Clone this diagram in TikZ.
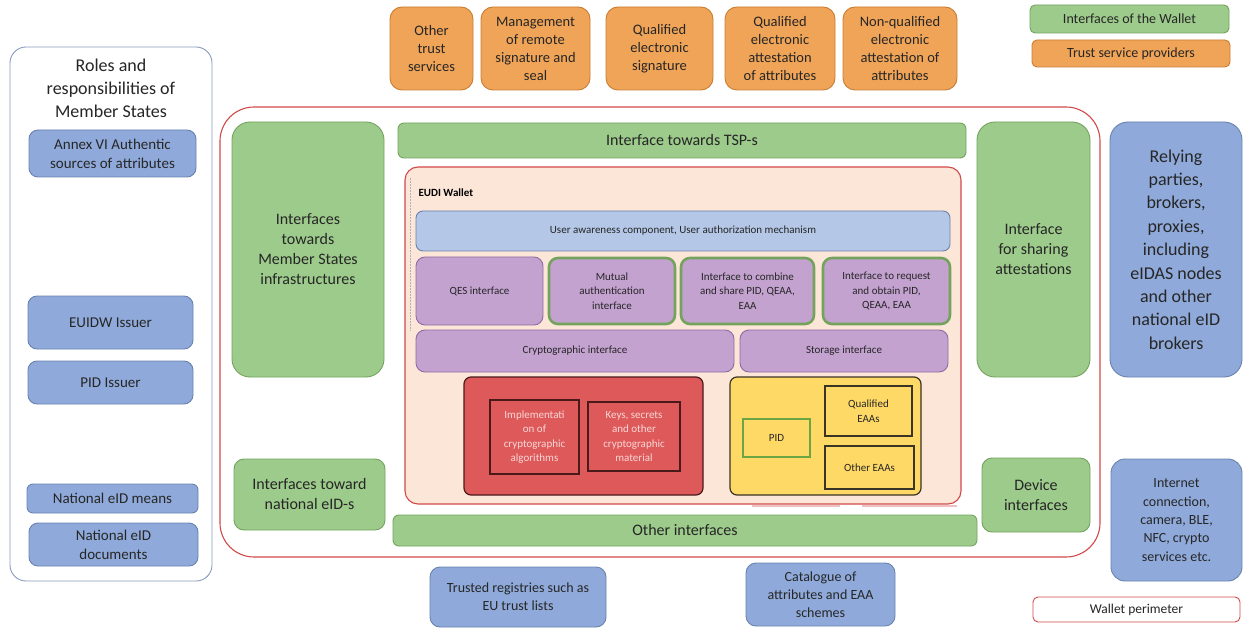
\documentclass[tikz,border=0pt]{standalone}
\usepackage{fontspec}
\setmainfont{Carlito}
\begin{document}
\definecolor{txt}{HTML}{262626}
\definecolor{gfill}{HTML}{9DCB8B}
\definecolor{gline}{HTML}{74A35E}
\definecolor{ofill}{HTML}{F0A457}
\definecolor{oline}{HTML}{C97D33}
\definecolor{bfill}{HTML}{8FAADA}
\definecolor{bline}{HTML}{6A83AE}
\definecolor{lbfill}{HTML}{B4C7E7}
\definecolor{pfill}{HTML}{C3A2D0}
\definecolor{pline}{HTML}{8F6DA3}
\definecolor{peach}{HTML}{FCE6D8}
\definecolor{perim}{HTML}{D24A4A}
\definecolor{rfill}{HTML}{DE5A5A}
\definecolor{rline}{HTML}{4A1A1A}
\definecolor{rtxt}{HTML}{F8D6D6}
\definecolor{yfill}{HTML}{FFD966}
\definecolor{yline}{HTML}{3A3426}
\definecolor{pidline}{HTML}{6CA544}
\tikzset{
  box/.style={draw, align=center, inner sep=0pt, outer sep=0pt, text=txt, line width=0.9pt},
  greenbox/.style={box, fill=gfill, draw=gline, rounded corners=14pt, font=\fontsize{16}{20}\selectfont},
  orangebox/.style={box, fill=ofill, draw=oline, rounded corners=12pt, font=\fontsize{14.5}{18}\selectfont},
  bluebox/.style={box, fill=bfill, draw=bline, rounded corners=9pt, font=\fontsize{15}{19}\selectfont},
  purplebox/.style={box, fill=pfill, draw=pline, rounded corners=9pt, font=\fontsize{11}{14.5}\selectfont},
  greenedge/.style={purplebox, draw=gline, line width=2.6pt},
  innerbox/.style={box, line width=1.3pt, font=\fontsize{11}{14.5}\selectfont},
}
\begin{tikzpicture}[x=1pt, y=-1pt]
\useasboundingbox (0,0) rectangle (1244,628);
\fill[white] (0,0) rectangle (1244,628);

% Member States column
\node[box, draw=bline!80, fill=white, rounded corners=16pt, minimum width=202, minimum height=534] (roles) at (111,314) {};
\node[text=txt, align=center, font=\fontsize{18}{23}\selectfont] (rolestitle) at (111,88) {Roles and\\responsibilities of\\Member States};
\node[bluebox, minimum width=167, minimum height=47] (annex) at (112.5,153.5) {Annex VI Authentic\\sources of attributes};
\node[bluebox, minimum width=165, minimum height=53] (euidw) at (110.5,322.5) {EUIDW Issuer};
\node[bluebox, minimum width=165, minimum height=43] (pidiss) at (110.5,382.5) {PID Issuer};
\node[bluebox, rounded corners=6pt, minimum width=171, minimum height=29] (eidmeans) at (112.5,498.5) {National eID means};
\node[bluebox, minimum width=169, minimum height=43] (eiddocs) at (113.5,544.5) {National eID\\documents};

% Trust service providers
\node[orangebox, minimum width=83, minimum height=83] (ots) at (431.5,48.5) {Other\\trust\\services};
\node[orangebox, minimum width=109, minimum height=83] (mgmt) at (535.5,48.5) {Management\\of remote\\signature and\\seal};
\node[orangebox, minimum width=107, minimum height=83] (qesig) at (659.5,48.5) {Qualified\\electronic\\signature};
\node[orangebox, minimum width=110, minimum height=83] (qeaa) at (780,48.5) {Qualified\\electronic\\attestation\\of attributes};
\node[orangebox, minimum width=114, minimum height=83] (nqeaa) at (900,48.5) {Non-qualified\\electronic\\attestation of\\attributes};

% Legend
\node[box, fill=gfill, draw=gline, rounded corners=5pt, minimum width=199, minimum height=28, font=\fontsize{14}{17}\selectfont] (leggreen) at (1129.5,19) {Interfaces of the Wallet};
\node[box, fill=ofill, draw=oline, rounded corners=5pt, minimum width=198, minimum height=27, font=\fontsize{14}{17}\selectfont] (legorange) at (1131,53.5) {Trust service providers};
\node[box, fill=white, draw=perim, rounded corners=5pt, minimum width=207, minimum height=25, font=\fontsize{13.5}{16}\selectfont] (legperim) at (1136.5,609.5) {Wallet perimeter};

% Wallet perimeter
\node[box, draw=perim, line width=1.1pt, rounded corners=34pt, minimum width=880, minimum height=450] (perimeter) at (660,332) {};

% Interfaces of the wallet
\node[greenbox, rounded corners=6pt, minimum width=568, minimum height=35] (tsp) at (682,140.5) {Interface towards TSP-s};
\node[greenbox, rounded corners=18pt, minimum width=152, minimum height=255] (msinf) at (308,249.5) {Interfaces\\towards\\Member States\\infrastructures};
\node[greenbox, rounded corners=10pt, minimum width=151, minimum height=71] (nateid) at (309.5,494.5) {Interfaces toward\\national eID-s};
\node[greenbox, rounded corners=18pt, minimum width=113, minimum height=255] (share) at (1033.5,249.5) {Interface\\for sharing\\attestations};
\node[greenbox, rounded corners=10pt, minimum width=108, minimum height=74] (device) at (1036,495) {Device\\interfaces};
\node[greenbox, rounded corners=6pt, minimum width=584, minimum height=31] (otherif) at (685,530.5) {Other interfaces};

% EUDI Wallet
\draw[perim!35, line width=1.2pt] (752,506) -- (840,506) (862,506) -- (957,506);
\node[box, fill=peach, draw=perim, line width=1.1pt, rounded corners=13pt, minimum width=556, minimum height=337] (wallet) at (683,335.5) {};
\draw[gray!60, densely dotted, line width=0.5pt] (410,178) -- (410,330);
\node[anchor=west, text=black, font=\fontsize{11}{13}\selectfont\bfseries] (wtitle) at (415,193) {EUDI Wallet};
\node[purplebox, fill=lbfill, draw=bline, rounded corners=7pt, minimum width=534, minimum height=40] (aware) at (683,231) {User awareness component, User authorization mechanism};
\node[purplebox, minimum width=127, minimum height=68] (qesif) at (479.5,291) {QES interface};
\node[greenedge, minimum width=126, minimum height=66] (mutual) at (612,291) {Mutual\\authentication\\interface};
\node[greenedge, minimum width=133, minimum height=66] (combine) at (747.5,291) {Interface to combine\\and share PID, QEAA,\\EAA};
\node[greenedge, minimum width=127, minimum height=66] (request) at (886.5,291) {Interface to request\\and obtain PID,\\QEAA, EAA};
\node[purplebox, minimum width=318, minimum height=42] (cryptoif) at (575,351) {Cryptographic interface};
\node[purplebox, minimum width=208, minimum height=42] (storage) at (844,351) {Storage interface};

\node[box, fill=rfill, draw=rline, line width=1.2pt, rounded corners=7pt, minimum width=239, minimum height=118] (secure) at (583.5,436) {};
\node[innerbox, fill=rfill, draw=rline, text=rtxt, minimum width=89, minimum height=74] (impl) at (534.5,437) {Implementati\\on of\\cryptographic\\algorithms};
\node[innerbox, fill=rfill, draw=rline, text=rtxt, minimum width=92, minimum height=69] (keys) at (634,436.5) {Keys, secrets\\and other\\cryptographic\\material};

\node[box, fill=yfill, draw=yline, line width=1.2pt, rounded corners=7pt, minimum width=191, minimum height=118] (store) at (825.5,436) {};
\node[innerbox, fill=yfill, draw=pidline, line width=2.2pt, minimum width=67, minimum height=38] (pid) at (776.5,438) {PID};
\node[innerbox, fill=yfill, draw=yline, minimum width=87, minimum height=50] (qeaas) at (868.5,411) {Qualified\\EAAs};
\node[innerbox, fill=yfill, draw=yline, minimum width=89, minimum height=43] (oeaas) at (869.5,467.5) {Other EAAs};

% Relying side
\node[bluebox, rounded corners=18pt, font=\fontsize{18}{23.4}\selectfont, minimum width=132, minimum height=255] (relying) at (1176,249.5) {Relying\\parties,\\brokers,\\proxies,\\including\\eIDAS nodes\\and other\\national eID\\brokers};
\node[bluebox, rounded corners=14pt, font=\fontsize{14}{18.3}\selectfont, minimum width=131, minimum height=122] (internet) at (1176.5,520) {Internet\\connection,\\camera, BLE,\\NFC, crypto\\services etc.};

% Registries below
\node[bluebox, rounded corners=10pt, font=\fontsize{14}{18}\selectfont, minimum width=176, minimum height=60] (registries) at (518,597) {Trusted registries such as\\EU trust lists};
\node[bluebox, rounded corners=10pt, font=\fontsize{14}{18}\selectfont, minimum width=149, minimum height=63] (catalogue) at (820.5,594.5) {Catalogue of\\attributes and EAA\\schemes};
\end{tikzpicture}
\end{document}
